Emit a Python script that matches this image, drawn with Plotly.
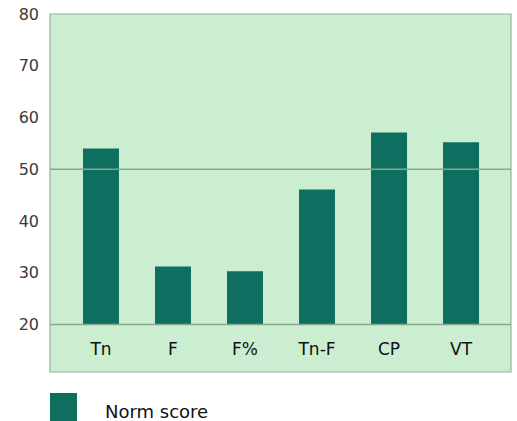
import plotly.graph_objects as go

categories = ["Tn", "F", "F%", "Tn-F", "CP", "VT"]
norm_score = [54.0, 31.2, 30.3, 46.1, 57.1, 55.2]
y_ticks = [20, 30, 40, 50, 60, 70, 80]
grid_values = [20, 50]
series_name = "Norm score"

BASE = 20
BAR_COLOR = "#0e6e60"
BG = "#cbeed1"

fig = go.Figure()
fig.add_trace(go.Bar(
    x=categories,
    y=[v - BASE for v in norm_score],
    base=[BASE] * len(norm_score),
    customdata=norm_score,
    hovertemplate="%{x}: %{customdata}<extra></extra>",
    marker=dict(color=BAR_COLOR, line=dict(width=0)),
    width=0.5,
    name=series_name,
    showlegend=False,
))

y_lo, y_hi = 10.82, 80
pos20 = (BASE - y_lo) / (y_hi - y_lo)

shapes = []
for g in grid_values:
    shapes.append(dict(type="line", xref="paper", yref="y", x0=0, x1=1, y0=g, y1=g,
                       line=dict(color="#86a887", width=1.5), layer="above"))
shapes.append(dict(type="rect", xref="paper", yref="paper", x0=0, x1=1, y0=0, y1=1,
                   line=dict(color="#93b396", width=1.2)))
# legend swatch
shapes.append(dict(type="rect", xref="paper", yref="paper", x0=0.0, x1=0.0586,
                   y0=-0.16, y1=-0.0587, fillcolor=BAR_COLOR, line=dict(width=0)))

fig.update_layout(
    width=517, height=421,
    margin=dict(l=50, r=6, t=14, b=49, autoexpand=False),
    paper_bgcolor="white",
    plot_bgcolor=BG,
    font=dict(family="DejaVu Sans, Verdana, sans-serif", size=16, color="#111"),
    bargap=0.5,
    showlegend=False,
    shapes=shapes,
    annotations=[dict(text=series_name, xref="paper", yref="paper", x=0.114, y=-0.11,
                      xanchor="left", yanchor="middle", showarrow=False,
                      font=dict(size=18, color="#111"))],
    xaxis=dict(
        range=[-0.708, 5.694],
        anchor="free", position=pos20,
        showline=False, showgrid=False, zeroline=False,
        ticks="outside", ticklen=9, tickcolor="rgba(0,0,0,0)",
        tickfont=dict(size=17, color="#111"),
        fixedrange=True, automargin=False,
    ),
    yaxis=dict(
        range=[y_lo, y_hi],
        tickvals=y_ticks,
        showgrid=False, zeroline=False, showline=False,
        ticks="", ticklabelstandoff=10,
        tickfont=dict(size=16, color="#3a3a3a"),
        fixedrange=True, automargin=False,
    ),
)

fig.write_html("out.html", config={"displayModeBar": False},
               post_script="document.body.style.margin='0';document.body.style.overflow='hidden';")
